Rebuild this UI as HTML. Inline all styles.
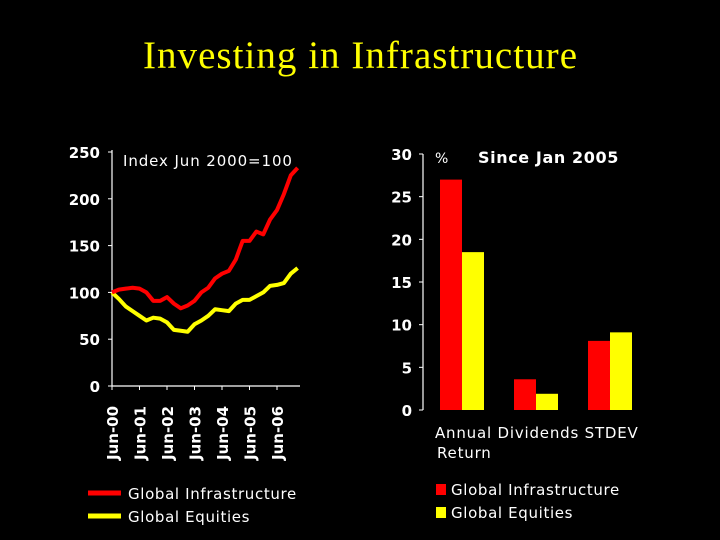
<!DOCTYPE html>
<html><head><meta charset="utf-8"><style>
html,body{margin:0;background:#000;overflow:hidden;width:720px;height:540px;}
svg{display:block;}
svg text{font-family:"DejaVu Sans","Liberation Sans",sans-serif;}
</style></head><body>
<svg width="720" height="540" viewBox="0 0 720 540" xmlns="http://www.w3.org/2000/svg">
<rect width="720" height="540" fill="#000"/>
<text x="360" y="68" text-anchor="middle" fill="#ffff00" font-size="39" textLength="434" lengthAdjust="spacing" style="font-family:'Liberation Serif',serif">Investing in Infrastructure</text>
<g id="left"></g>
<g id="right"></g>
</svg>
<script>
const yTicksL=[0,50,100,150,200,250];
const xTicksL=["Jun-00","Jun-01","Jun-02","Jun-03","Jun-04","Jun-05","Jun-06"];
const infra=[100,103,104,105,104,100,91,91,95,88,83,86,91,100,105,115,120,123,135,155,155,165,162,178,188,205,225,233];
const equities=[100,93,85,80,75,70,73,72,68,60,59,58,66,70,75,82,81,80,88,92,92,96,100,107,108,110,120,126];
const cats=[["Annual","Return"],["Dividends"],["STDEV"]];
const barInfra=[27,3.6,8.1];
const barEq=[18.5,1.9,9.1];
const yTicksR=[0,5,10,15,20,25,30];
const NS="http://www.w3.org/2000/svg";
function mk(p,t,a,txt){const e=document.createElementNS(NS,t);for(const k in a)e.setAttribute(k,a[k]);if(txt!==undefined)e.textContent=txt;p.appendChild(e);return e;}
const L=document.getElementById('left');
const yL=v=>386-v*(386-152)/250;
const xL=q=>112+q*27.5/4;
let ax=mk(L,'path',{d:`M112 150V386H300`,stroke:'#fff','stroke-width':1.2,fill:'none'});

yTicksL.forEach(v=>{mk(L,'line',{x1:108,x2:112,y1:yL(v),y2:yL(v),stroke:'#fff'});
 const t=mk(L,'text',{x:100,y:yL(v)+6,'text-anchor':'end',fill:'#fff','font-size':15,'font-weight':'bold'},v);
 });
xTicksL.forEach((s,i)=>{const x=xL(i*4);mk(L,'line',{x1:x,x2:x,y1:386,y2:390,stroke:'#fff'});
 const t=mk(L,'text',{x:0,y:0,transform:`translate(${x+6},${460}) rotate(-90)`,fill:'#fff','font-size':15,'font-weight':'bold'},s);
 });
let it=mk(L,'text',{x:123,y:166,fill:'#fff','font-size':15,'letter-spacing':'0.9'},'Index Jun 2000=100');

[[equities,'#ffff00','equities-line'],[infra,'#ff0000','infrastructure-line']].forEach(([d,c,n])=>{
 const p=mk(L,'polyline',{points:d.map((v,i)=>xL(i)+','+yL(v)).join(' '),stroke:c,'stroke-width':4,fill:'none','stroke-linejoin':'round'});
 });
[['Global Infrastructure','#ff0000',494],['Global Equities','#ffff00',517]].forEach(([s,c,y])=>{
 const g=mk(L,'g',{});
 mk(g,'line',{x1:88,x2:121,y1:y-1,y2:y-1,stroke:c,'stroke-width':5});
 mk(g,'text',{x:128,y:y+5,fill:'#fff','font-size':15,'letter-spacing':'0.65'},s);});
const R=document.getElementById('right');
const yR=v=>410-v*(410-154)/30;
let ax2=mk(R,'path',{d:'M423 154V410',stroke:'#fff','stroke-width':1.2,fill:'none'});

yTicksR.forEach(v=>{mk(R,'line',{x1:419,x2:423,y1:yR(v),y2:yR(v),stroke:'#fff'});
 const t=mk(R,'text',{x:412,y:yR(v)+6,'text-anchor':'end',fill:'#fff','font-size':15,'font-weight':'bold'},v);
 });
let pc=mk(R,'text',{x:435,y:163,fill:'#fff','font-size':14},'%');
let st=mk(R,'text',{x:478,y:163,fill:'#fff','font-size':16,'font-weight':'bold','letter-spacing':'0.6'},'Since Jan 2005');
cats.forEach((c,i)=>{const cx=462+i*74;
 const b1=mk(R,'rect',{x:cx-22,y:yR(barInfra[i]),width:22,height:410-yR(barInfra[i]),fill:'#ff0000'});
 
 const b2=mk(R,'rect',{x:cx,y:yR(barEq[i]),width:22,height:410-yR(barEq[i]),fill:'#ffff00'});
 });
const cl=mk(R,'text',{x:435,y:438,fill:'#fff','font-size':15,'letter-spacing':'0.8'},'Annual Dividends STDEV');

const cl2=mk(R,'text',{x:437,y:458,fill:'#fff','font-size':15,'letter-spacing':'0.8'},'Return');

[['Global Infrastructure','#ff0000',490],['Global Equities','#ffff00',513]].forEach(([s,c,y])=>{
 const g=mk(R,'g',{});
 mk(g,'rect',{x:436,y:y-6,width:10,height:11,fill:c});
 mk(g,'text',{x:451,y:y+5,fill:'#fff','font-size':15,'letter-spacing':'0.65'},s);});
</script>
</body></html>
